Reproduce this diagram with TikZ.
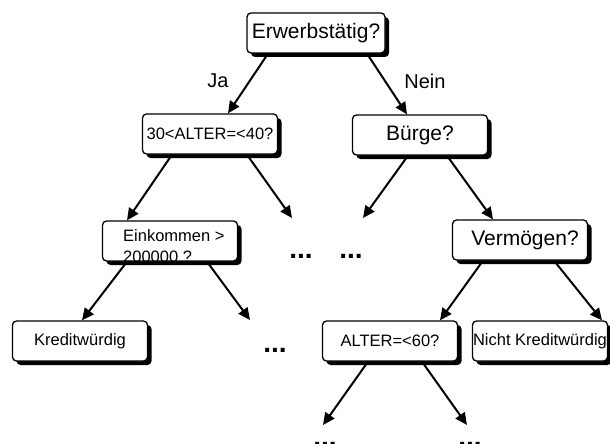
\documentclass[tikz,border=0pt]{standalone}
\usepackage{fontspec}
\setmainfont{Liberation Sans}
\usetikzlibrary{shadows,arrows.meta}
\begin{document}
\begin{tikzpicture}[x=1pt,y=-1pt,
  decision/.style={draw=black, line width=1.3pt, fill=white, rounded corners=4pt,
    minimum width=135pt, minimum height=40pt, inner sep=0pt,
    drop shadow={shadow xshift=4pt, shadow yshift=-4pt, fill=black, opacity=1}},
  big/.style={font=\fontsize{21}{24}\selectfont},
  small/.style={font=\fontsize{16.5}{20}\selectfont},
  plain/.style={inner sep=0pt},
  branch/.style={line width=2pt, -{Triangle[length=12pt,width=11pt]}},
  more/.style={font=\bfseries\fontsize{28}{30}\selectfont, anchor=base, inner sep=0pt},
  answer/.style={font=\fontsize{20}{24}\selectfont, inner sep=0pt}
]
\useasboundingbox (0,0) rectangle (610,444);

% decision boxes
\node[decision, big, minimum width=138pt] (E)   at (316,33)  {Erwerbstätig?};
\node[decision, small] (A40) at (210,134) {30<ALTER=<40?};
\node[decision, big]   (B)   at (420,135) {Bürge?};
\node[decision]        (Ein) at (170,241) {};
\node[plain, small, anchor=base west] (EinT1) at (123,241) {Einkommen >};
\node[plain, small, anchor=base west] (EinT2) at (123,262) {200000 ?};
\node[decision, big]   (V)   at (520,240) {\hspace*{10pt}Vermögen?};
\node[decision, small] (K)   at (80,341)  {Kreditwürdig};
\node[decision, small] (A60) at (390,341) {ALTER=<60?};
\node[decision, small] (N)   at (540,341) {Nicht Kreditwürdig};

% branch labels
\node[answer] (ja)   at (218,81) {Ja};
\node[answer] (nein) at (425,81) {Nein};

% open ends of the tree
\coordinate (c1) at (292,218);
\coordinate (c2) at (363,218);
\coordinate (c3) at (250,320);
\coordinate (c4) at (323,425);
\coordinate (c5) at (467,425);

\node[more] (d1) at (301,258) {...};
\node[more] (d2) at (351,258) {...};
\node[more] (d3) at (275,352) {...};
\node[more] (d4) at (325,446.5) {...};
\node[more] (d5) at (470,446.5) {...};

% branches
\draw[branch] ([xshift=-48pt]E.south)   -- ([xshift=18pt]A40.north);
\draw[branch] ([xshift=51pt]E.south)    -- ([xshift=-13pt]B.north);
\draw[branch] ([xshift=-38pt]A40.south) -- ([xshift=-43pt]Ein.north);
\draw[branch] ([xshift=37pt]A40.south)  -- (c1);
\draw[branch] ([xshift=-12pt]B.south)   -- (c2);
\draw[branch] ([xshift=27pt]B.south)    -- ([xshift=-27pt]V.north);
\draw[branch] ([xshift=-43pt]Ein.south) -- ([xshift=2pt]K.north);
\draw[branch] ([xshift=37pt]Ein.south)  -- (c3);
\draw[branch] ([xshift=-37pt]V.south)   -- ([xshift=50pt]A60.north);
\draw[branch] ([xshift=34pt]V.south)    -- ([xshift=62pt]N.north);
\draw[branch] ([xshift=-22pt]A60.south) -- (c4);
\draw[branch] ([xshift=32pt]A60.south)  -- (c5);
\end{tikzpicture}
\end{document}
